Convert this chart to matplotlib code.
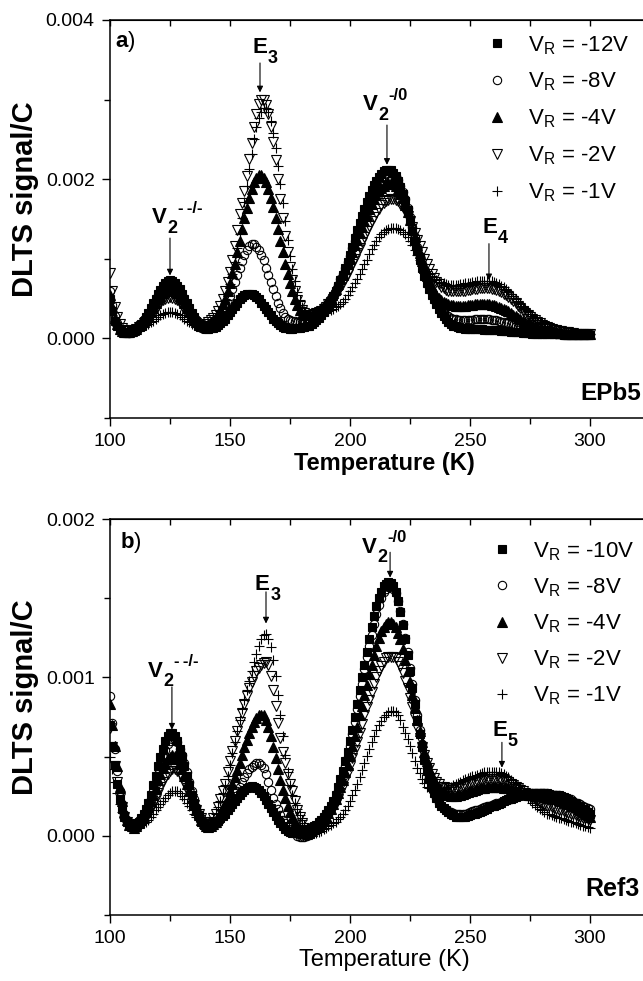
import numpy as np
import matplotlib
matplotlib.use('Agg')
import matplotlib.pyplot as plt
from matplotlib.ticker import MultipleLocator, FixedLocator, FormatStrFormatter

plt.rcParams['font.family'] = ['Liberation Sans', 'DejaVu Sans']
plt.rcParams['mathtext.fontset'] = 'custom'
plt.rcParams['mathtext.rm'] = 'Liberation Sans'
plt.rcParams['mathtext.it'] = 'Liberation Sans:italic'
plt.rcParams['mathtext.bf'] = 'Liberation Sans:bold'
plt.rcParams['mathtext.default'] = 'regular'

# temperature scan (K), one reading per kelvin from 100 to 300
temp = np.arange(100, 301, 1)

# DLTS signal/C, in units of 1e-4 (rows of 10 K)
# a) sample EPb5
epb5_12v = [5.0, 3.4, 2.2, 1.5, 1.0, 0.8, 0.7, 0.7, 0.7, 0.8,
            1.0, 1.2, 1.5, 1.8, 2.2, 2.7, 3.2, 3.8, 4.4, 5.0,
            5.6, 6.1, 6.6, 7.0, 7.2, 7.3, 7.2, 7.0, 6.6, 6.2,
            5.6, 5.0, 4.4, 3.8, 3.2, 2.7, 2.2, 1.8, 1.5, 1.3,
            1.2, 1.2, 1.25, 1.3, 1.45, 1.65, 1.9, 2.2, 2.5, 2.9,
            3.3, 3.7, 4.1, 4.5, 4.9, 5.2, 5.4, 5.55, 5.6, 5.55,
            5.4, 5.2, 4.9, 4.5, 4.1, 3.7, 3.3, 2.9, 2.5, 2.2,
            1.9, 1.65, 1.45, 1.35, 1.25, 1.2, 1.2, 1.25, 1.3, 1.35,
            1.4, 1.45, 1.5, 1.6, 1.8, 2.0, 2.3, 2.6, 2.9, 3.3,
            3.7, 4.2, 4.7, 5.3, 5.9, 6.6, 7.3, 8.0, 8.8, 9.6,
            10.5, 11.5, 12.6, 13.6, 14.5, 15.4, 16.2, 17.1, 17.9, 18.6,
            19.3, 19.8, 20.3, 20.7, 21.0, 21.1, 21.2, 21.1, 20.8, 20.4,
            19.8, 19.0, 18.1, 17.2, 16.1, 14.8, 13.5, 12.2, 11.0, 9.9,
            8.9, 7.9, 7.0, 6.2, 5.5, 4.9, 4.3, 3.7, 3.2, 2.8,
            2.4, 2.1, 1.8, 1.6, 1.5, 1.4, 1.3, 1.25, 1.2, 1.2,
            1.2, 1.2, 1.2, 1.2, 1.2, 1.2, 1.1, 1.1, 1.1, 1.1,
            1.0, 1.0, 1.0, 0.95, 0.9, 0.9, 0.9, 0.85, 0.8, 0.8,
            0.8, 0.75, 0.7, 0.7, 0.7, 0.65, 0.6, 0.6, 0.6, 0.6,
            0.6, 0.55, 0.5, 0.5, 0.5, 0.5, 0.5, 0.5, 0.5, 0.45,
            0.4, 0.4, 0.4, 0.4, 0.4, 0.4, 0.4, 0.4, 0.4, 0.4,
            0.4]
epb5_8v = [6.0, 4.2, 2.8, 1.9, 1.2, 0.95, 0.8, 0.75, 0.7, 0.8,
           0.9, 1.2, 1.5, 1.8, 2.1, 2.5, 3.0, 3.6, 4.2, 4.8,
           5.4, 5.9, 6.4, 6.7, 6.9, 7.0, 6.9, 6.7, 6.4, 5.9,
           5.4, 4.8, 4.2, 3.6, 3.0, 2.5, 2.1, 1.8, 1.5, 1.4,
           1.3, 1.4, 1.5, 1.7, 1.9, 2.3, 2.7, 3.2, 3.8, 4.5,
           5.3, 6.2, 7.1, 8.0, 8.9, 9.7, 10.5, 11.1, 11.6, 11.8,
           11.8, 11.5, 11.1, 10.5, 9.8, 8.9, 8.0, 7.1, 6.2, 5.3,
           4.5, 3.8, 3.2, 2.7, 2.4, 2.3, 2.2, 2.15, 2.1, 2.1,
           2.1, 2.15, 2.2, 2.35, 2.5, 2.7, 2.9, 3.15, 3.4, 3.7,
           4.1, 4.5, 5.0, 5.5, 6.1, 6.7, 7.4, 8.1, 8.8, 9.6,
           10.4, 11.3, 12.2, 13.1, 14.0, 14.9, 15.7, 16.5, 17.3, 18.0,
           18.7, 19.2, 19.7, 20.1, 20.4, 20.6, 20.8, 20.8, 20.7, 20.4,
           19.9, 19.2, 18.4, 17.5, 16.4, 15.2, 14.0, 12.7, 11.5, 10.4,
           9.3, 8.3, 7.3, 6.5, 5.7, 5.1, 4.5, 4.0, 3.6, 3.3,
           3.0, 2.8, 2.6, 2.5, 2.4, 2.35, 2.3, 2.3, 2.3, 2.3,
           2.3, 2.35, 2.4, 2.4, 2.4, 2.4, 2.4, 2.4, 2.4, 2.35,
           2.3, 2.25, 2.2, 2.1, 2.0, 1.95, 1.9, 1.8, 1.7, 1.6,
           1.5, 1.4, 1.3, 1.2, 1.1, 1.05, 1.0, 0.95, 0.9, 0.85,
           0.8, 0.75, 0.7, 0.7, 0.7, 0.65, 0.6, 0.6, 0.6, 0.55,
           0.5, 0.5, 0.5, 0.5, 0.5, 0.5, 0.5, 0.5, 0.5, 0.5,
           0.5]
epb5_4v = [5.5, 3.9, 2.6, 1.8, 1.2, 0.95, 0.8, 0.8, 0.8, 0.9,
           1.0, 1.2, 1.5, 1.7, 2.0, 2.4, 2.8, 3.3, 3.8, 4.4,
           4.9, 5.3, 5.7, 6.0, 6.2, 6.3, 6.2, 6.0, 5.7, 5.3,
           4.9, 4.4, 3.8, 3.3, 2.8, 2.4, 2.0, 1.7, 1.5, 1.5,
           1.6, 1.8, 2.0, 2.3, 2.6, 3.1, 3.6, 4.3, 5.0, 5.9,
           7.0, 8.2, 9.4, 10.8, 12.2, 13.7, 15.1, 16.4, 17.7, 18.8,
           19.6, 20.2, 20.5, 20.5, 20.2, 19.6, 18.8, 17.7, 16.5, 15.1,
           13.7, 12.2, 10.8, 9.4, 8.1, 7.0, 5.9, 5.0, 4.2, 3.6,
           3.1, 3.0, 2.9, 2.95, 3.0, 3.1, 3.3, 3.5, 3.8, 4.1,
           4.4, 4.8, 5.2, 5.7, 6.2, 6.8, 7.4, 8.0, 8.7, 9.4,
           10.1, 10.9, 11.7, 12.4, 13.2, 14.0, 14.8, 15.5, 16.2, 16.9,
           17.5, 18.0, 18.5, 18.9, 19.2, 19.4, 19.5, 19.5, 19.4, 19.2,
           18.8, 18.3, 17.6, 16.8, 15.9, 14.9, 13.9, 12.8, 11.7, 10.7,
           9.7, 8.8, 7.9, 7.2, 6.5, 6.0, 5.5, 5.1, 4.8, 4.6,
           4.4, 4.3, 4.2, 4.15, 4.1, 4.1, 4.1, 4.1, 4.1, 4.15,
           4.2, 4.25, 4.3, 4.3, 4.3, 4.3, 4.3, 4.3, 4.3, 4.25,
           4.2, 4.1, 4.0, 3.85, 3.7, 3.55, 3.4, 3.2, 3.0, 2.8,
           2.6, 2.4, 2.2, 2.05, 1.9, 1.75, 1.6, 1.45, 1.3, 1.2,
           1.1, 1.05, 1.0, 0.95, 0.9, 0.85, 0.8, 0.75, 0.7, 0.65,
           0.6, 0.6, 0.6, 0.55, 0.5, 0.5, 0.5, 0.5, 0.5, 0.5,
           0.5]
epb5_2v = [8.2, 5.9, 4.0, 2.7, 1.8, 1.3, 1.0, 0.95, 0.9, 0.95,
           1.0, 1.2, 1.4, 1.6, 1.9, 2.2, 2.5, 2.9, 3.3, 3.7,
           4.1, 4.5, 4.8, 5.0, 5.1, 5.15, 5.1, 5.0, 4.8, 4.5,
           4.1, 3.7, 3.3, 2.9, 2.5, 2.2, 1.9, 1.7, 1.5, 1.6,
           1.8, 2.0, 2.3, 2.6, 3.0, 3.5, 4.1, 4.9, 5.9, 7.1,
           8.4, 9.9, 11.6, 13.6, 15.6, 17.0, 18.5, 20.4, 22.5, 24.5,
           26.5, 28.2, 29.5, 29.9, 29.9, 29.3, 28.2, 26.6, 24.7, 22.4,
           20.0, 17.5, 15.1, 12.9, 10.8, 9.0, 7.3, 6.0, 4.8, 4.1,
           3.6, 3.2, 2.9, 2.95, 3.0, 3.1, 3.2, 3.35, 3.5, 3.75,
           4.0, 4.3, 4.6, 5.0, 5.4, 5.9, 6.4, 6.9, 7.5, 8.1,
           8.7, 9.3, 10.0, 10.7, 11.4, 12.1, 12.8, 13.5, 14.1, 14.7,
           15.3, 15.8, 16.3, 16.7, 17.0, 17.2, 17.4, 17.5, 17.5, 17.4,
           17.2, 16.9, 16.5, 16.0, 15.4, 14.7, 14.0, 13.2, 12.4, 11.6,
           10.8, 10.0, 9.3, 8.7, 8.1, 7.6, 7.1, 6.8, 6.5, 6.3,
           6.1, 6.0, 5.9, 5.9, 5.9, 5.9, 5.9, 5.95, 6.0, 6.05,
           6.1, 6.15, 6.2, 6.25, 6.3, 6.3, 6.3, 6.3, 6.3, 6.25,
           6.2, 6.1, 6.0, 5.8, 5.6, 5.4, 5.2, 4.95, 4.7, 4.4,
           4.1, 3.8, 3.5, 3.25, 3.0, 2.75, 2.5, 2.3, 2.1, 1.9,
           1.7, 1.55, 1.4, 1.3, 1.2, 1.1, 1.0, 0.95, 0.9, 0.85,
           0.8, 0.75, 0.7, 0.65, 0.6, 0.6, 0.6, 0.55, 0.5, 0.5,
           0.5]
epb5_1v = [4.0, 3.0, 2.2, 1.6, 1.2, 1.0, 0.9, 0.9, 0.9, 0.95,
           1.0, 1.1, 1.2, 1.35, 1.5, 1.65, 1.8, 2.0, 2.2, 2.45,
           2.7, 2.9, 3.1, 3.2, 3.3, 3.35, 3.3, 3.2, 3.1, 2.9,
           2.7, 2.45, 2.2, 2.0, 1.8, 1.65, 1.5, 1.4, 1.3, 1.4,
           1.5, 1.75, 2.0, 2.2, 2.5, 2.9, 3.4, 4.0, 4.8, 5.7,
           6.8, 8.1, 9.6, 11.3, 13.1, 15.1, 17.1, 19.2, 21.3, 23.2,
           25.0, 26.5, 27.7, 28.4, 28.9, 28.9, 28.4, 27.3, 25.8, 23.9,
           21.7, 19.4, 17.0, 14.7, 12.4, 10.4, 8.7, 7.2, 5.8, 4.8,
           3.9, 3.4, 3.0, 3.0, 3.0, 3.05, 3.1, 3.15, 3.2, 3.3,
           3.4, 3.5, 3.6, 3.75, 3.9, 4.1, 4.3, 4.6, 5.0, 5.4,
           5.9, 6.4, 7.0, 7.5, 8.1, 8.7, 9.3, 9.9, 10.6, 11.2,
           11.7, 12.2, 12.7, 13.1, 13.4, 13.6, 13.8, 13.9, 13.9, 13.9,
           13.8, 13.6, 13.4, 13.1, 12.7, 12.2, 11.7, 11.1, 10.5, 9.9,
           9.4, 8.9, 8.5, 8.1, 7.8, 7.5, 7.3, 7.1, 7.0, 6.9,
           6.8, 6.75, 6.7, 6.7, 6.7, 6.75, 6.8, 6.85, 6.9, 6.95,
           7.0, 7.05, 7.1, 7.15, 7.2, 7.2, 7.2, 7.2, 7.2, 7.15,
           7.1, 7.0, 6.8, 6.6, 6.4, 6.15, 5.9, 5.6, 5.3, 4.95,
           4.6, 4.3, 4.0, 3.7, 3.4, 3.1, 2.8, 2.55, 2.3, 2.1,
           1.9, 1.75, 1.6, 1.45, 1.3, 1.2, 1.1, 1.05, 1.0, 0.9,
           0.8, 0.75, 0.7, 0.65, 0.6, 0.6, 0.6, 0.55, 0.5, 0.5,
           0.5]

# b) sample Ref3
ref3_10v = [7.0, 5.7, 4.5, 3.3, 2.3, 1.7, 1.2, 0.9, 0.7, 0.7,
            0.7, 0.8, 0.9, 1.1, 1.4, 1.7, 2.1, 2.6, 3.2, 3.8,
            4.4, 5.0, 5.5, 6.0, 6.3, 6.5, 6.5, 6.3, 6.0, 5.5,
            5.0, 4.4, 3.8, 3.2, 2.6, 2.1, 1.7, 1.3, 0.9, 0.7,
            0.6, 0.6, 0.6, 0.7, 0.8, 0.95, 1.1, 1.25, 1.4, 1.6,
            1.8, 2.0, 2.2, 2.4, 2.6, 2.75, 2.9, 3.0, 3.1, 3.15,
            3.1, 3.0, 2.9, 2.7, 2.5, 2.25, 2.0, 1.75, 1.5, 1.25,
            1.0, 0.8, 0.6, 0.45, 0.3, 0.25, 0.2, 0.2, 0.2, 0.25,
            0.3, 0.35, 0.4, 0.45, 0.5, 0.6, 0.7, 0.85, 1.0, 1.2,
            1.4, 1.65, 1.9, 2.2, 2.6, 3.1, 3.6, 4.1, 4.7, 5.3,
            6.0, 6.7, 7.5, 8.3, 9.2, 10.0, 10.8, 11.6, 12.4, 13.2,
            13.9, 14.5, 15.0, 15.4, 15.8, 15.9, 16.0, 15.95, 15.8, 15.4,
            14.8, 14.1, 13.3, 12.4, 11.4, 10.4, 9.3, 8.3, 7.3, 6.4,
            5.6, 4.8, 4.1, 3.6, 3.1, 2.7, 2.4, 2.1, 1.9, 1.75,
            1.6, 1.5, 1.4, 1.3, 1.2, 1.2, 1.2, 1.2, 1.2, 1.25,
            1.3, 1.35, 1.4, 1.45, 1.5, 1.55, 1.6, 1.7, 1.8, 1.85,
            1.9, 1.95, 2.0, 2.1, 2.2, 2.25, 2.3, 2.35, 2.4, 2.45,
            2.5, 2.55, 2.6, 2.65, 2.7, 2.7, 2.7, 2.7, 2.7, 2.7,
            2.7, 2.7, 2.7, 2.65, 2.6, 2.6, 2.6, 2.55, 2.5, 2.45,
            2.4, 2.3, 2.2, 2.1, 2.0, 1.9, 1.8, 1.7, 1.6, 1.5,
            1.4]
ref3_8v = [8.8, 7.1, 5.5, 4.1, 2.8, 2.0, 1.4, 1.0, 0.8, 0.7,
           0.6, 0.7, 0.8, 1.0, 1.2, 1.5, 1.8, 2.3, 2.8, 3.3,
           3.9, 4.5, 5.0, 5.4, 5.8, 6.0, 6.1, 6.1, 5.9, 5.5,
           5.1, 4.6, 4.0, 3.4, 2.8, 2.3, 1.8, 1.4, 1.1, 0.9,
           0.7, 0.65, 0.6, 0.7, 0.8, 0.95, 1.1, 1.3, 1.5, 1.75,
           2.0, 2.25, 2.5, 2.8, 3.1, 3.4, 3.7, 3.95, 4.2, 4.35,
           4.5, 4.6, 4.6, 4.5, 4.3, 3.9, 3.4, 2.9, 2.4, 2.0,
           1.7, 1.3, 1.0, 0.8, 0.6, 0.45, 0.3, 0.15, 0.0, -0.05,
           -0.1, -0.05, 0.0, 0.15, 0.3, 0.4, 0.5, 0.65, 0.8, 1.0,
           1.2, 1.45, 1.7, 2.0, 2.4, 2.8, 3.3, 3.8, 4.4, 5.0,
           5.7, 6.4, 7.2, 8.0, 8.8, 9.6, 10.5, 11.3, 12.0, 12.7,
           13.4, 14.0, 14.6, 15.0, 15.4, 15.6, 15.7, 15.7, 15.6, 15.3,
           14.8, 14.2, 13.4, 12.5, 11.6, 10.6, 9.6, 8.6, 7.6, 6.7,
           5.8, 5.0, 4.3, 3.7, 3.2, 2.8, 2.4, 2.1, 1.9, 1.75,
           1.6, 1.55, 1.5, 1.45, 1.4, 1.4, 1.4, 1.4, 1.4, 1.45,
           1.5, 1.55, 1.6, 1.65, 1.7, 1.75, 1.8, 1.85, 1.9, 1.95,
           2.0, 2.05, 2.1, 2.15, 2.2, 2.25, 2.3, 2.35, 2.4, 2.45,
           2.5, 2.55, 2.6, 2.6, 2.6, 2.65, 2.7, 2.7, 2.7, 2.7,
           2.7, 2.7, 2.7, 2.65, 2.6, 2.6, 2.6, 2.55, 2.5, 2.45,
           2.4, 2.35, 2.3, 2.2, 2.1, 2.05, 2.0, 1.9, 1.8, 1.75,
           1.7]
ref3_4v = [8.3, 7.0, 5.7, 4.4, 3.1, 2.2, 1.5, 1.0, 0.7, 0.6,
           0.5, 0.6, 0.8, 1.0, 1.2, 1.5, 1.8, 2.2, 2.6, 3.0,
           3.5, 3.9, 4.3, 4.6, 4.9, 5.0, 5.1, 5.05, 4.9, 4.6,
           4.2, 3.8, 3.3, 2.85, 2.4, 2.0, 1.6, 1.3, 1.0, 0.8,
           0.6, 0.55, 0.6, 0.75, 0.9, 1.15, 1.4, 1.7, 2.0, 2.4,
           2.8, 3.25, 3.7, 4.15, 4.6, 5.1, 5.6, 6.05, 6.5, 6.9,
           7.2, 7.45, 7.6, 7.65, 7.6, 7.3, 6.9, 6.3, 5.6, 4.9,
           4.2, 3.5, 2.9, 2.4, 1.9, 1.5, 1.1, 0.85, 0.6, 0.4,
           0.2, 0.15, 0.1, 0.2, 0.3, 0.4, 0.5, 0.65, 0.8, 1.0,
           1.2, 1.45, 1.7, 2.0, 2.3, 2.7, 3.1, 3.55, 4.0, 4.5,
           5.1, 5.7, 6.3, 6.9, 7.6, 8.2, 8.9, 9.5, 10.2, 10.8,
           11.4, 12.0, 12.5, 12.9, 13.2, 13.4, 13.5, 13.5, 13.4, 13.2,
           12.8, 12.4, 11.8, 11.1, 10.4, 9.7, 8.9, 8.1, 7.3, 6.6,
           5.9, 5.3, 4.7, 4.2, 3.8, 3.5, 3.2, 3.0, 2.8, 2.7,
           2.6, 2.55, 2.5, 2.5, 2.5, 2.55, 2.6, 2.65, 2.7, 2.75,
           2.8, 2.85, 2.9, 2.95, 3.0, 3.0, 3.0, 3.05, 3.1, 3.1,
           3.1, 3.1, 3.1, 3.05, 3.0, 3.0, 3.0, 2.95, 2.9, 2.85,
           2.8, 2.75, 2.7, 2.65, 2.6, 2.6, 2.6, 2.55, 2.5, 2.5,
           2.5, 2.45, 2.4, 2.4, 2.4, 2.35, 2.3, 2.25, 2.2, 2.15,
           2.1, 2.0, 1.9, 1.85, 1.8, 1.7, 1.6, 1.5, 1.4, 1.3,
           1.2]
ref3_2v = [6.8, 5.6, 4.4, 3.4, 2.4, 1.8, 1.2, 0.9, 0.7, 0.6,
           0.5, 0.6, 0.7, 0.85, 1.0, 1.2, 1.4, 1.7, 2.0, 2.35,
           2.7, 3.05, 3.4, 3.7, 3.9, 4.1, 4.2, 4.2, 4.1, 3.9,
           3.7, 3.35, 3.0, 2.65, 2.3, 1.95, 1.6, 1.35, 1.1, 0.9,
           0.7, 0.75, 0.9, 1.1, 1.4, 1.8, 2.3, 2.8, 3.3, 4.0,
           4.7, 5.35, 6.0, 6.6, 7.2, 7.75, 8.3, 8.8, 9.3, 9.7,
           10.1, 10.4, 10.6, 10.8, 10.9, 10.95, 10.8, 10.1, 9.2, 8.2,
           7.1, 6.2, 5.3, 4.6, 3.9, 3.3, 2.8, 2.2, 1.6, 1.2,
           0.8, 0.5, 0.3, 0.3, 0.3, 0.4, 0.5, 0.65, 0.8, 0.95,
           1.1, 1.3, 1.5, 1.75, 2.0, 2.35, 2.7, 3.1, 3.5, 3.95,
           4.4, 4.9, 5.4, 5.95, 6.5, 7.05, 7.6, 8.1, 8.6, 9.1,
           9.6, 10.0, 10.4, 10.7, 11.0, 11.2, 11.3, 11.3, 11.3, 11.2,
           11.0, 10.7, 10.3, 9.8, 9.3, 8.7, 8.1, 7.45, 6.8, 6.2,
           5.6, 5.1, 4.6, 4.25, 3.9, 3.65, 3.4, 3.25, 3.1, 3.05,
           3.0, 3.0, 3.0, 3.0, 3.0, 3.05, 3.1, 3.15, 3.2, 3.25,
           3.3, 3.35, 3.4, 3.45, 3.5, 3.55, 3.6, 3.6, 3.6, 3.6,
           3.6, 3.6, 3.6, 3.55, 3.5, 3.45, 3.4, 3.3, 3.2, 3.1,
           3.0, 2.9, 2.8, 2.7, 2.6, 2.5, 2.4, 2.3, 2.2, 2.1,
           2.0, 1.95, 1.9, 1.85, 1.8, 1.75, 1.7, 1.65, 1.6, 1.55,
           1.5, 1.45, 1.4, 1.35, 1.3, 1.25, 1.2, 1.15, 1.1, 1.05,
           1.0]
ref3_1v = [5.0, 4.2, 3.4, 2.7, 2.0, 1.5, 1.1, 0.9, 0.7, 0.6,
           0.5, 0.55, 0.6, 0.7, 0.8, 0.9, 1.0, 1.2, 1.4, 1.6,
           1.8, 2.0, 2.2, 2.4, 2.6, 2.7, 2.8, 2.85, 2.8, 2.7,
           2.5, 2.3, 2.1, 1.85, 1.6, 1.4, 1.2, 1.05, 0.9, 0.8,
           0.7, 0.75, 0.9, 1.1, 1.4, 1.8, 2.2, 2.7, 3.2, 3.8,
           4.5, 5.2, 5.9, 6.6, 7.3, 8.0, 8.6, 9.2, 9.8, 10.4,
           11.0, 11.5, 12.0, 12.4, 12.7, 12.75, 12.4, 11.9, 11.1, 10.1,
           8.9, 7.6, 6.3, 5.1, 4.0, 3.2, 2.6, 2.1, 1.7, 1.3,
           1.0, 0.7, 0.5, 0.3, 0.2, 0.2, 0.2, 0.25, 0.3, 0.4,
           0.5, 0.6, 0.7, 0.8, 0.9, 1.05, 1.2, 1.4, 1.6, 1.9,
           2.2, 2.55, 2.9, 3.3, 3.7, 4.15, 4.6, 5.05, 5.5, 5.9,
           6.3, 6.65, 7.0, 7.25, 7.5, 7.65, 7.8, 7.85, 7.9, 7.8,
           7.6, 7.3, 6.9, 6.5, 6.1, 5.65, 5.2, 4.75, 4.3, 3.95,
           3.6, 3.35, 3.1, 3.0, 2.9, 2.85, 2.8, 2.85, 2.9, 2.95,
           3.0, 3.05, 3.1, 3.2, 3.3, 3.35, 3.4, 3.5, 3.6, 3.65,
           3.7, 3.75, 3.8, 3.85, 3.9, 3.95, 4.0, 4.0, 4.0, 4.0,
           4.0, 4.0, 4.0, 3.95, 3.9, 3.8, 3.7, 3.55, 3.4, 3.25,
           3.1, 2.9, 2.7, 2.55, 2.4, 2.25, 2.1, 1.95, 1.8, 1.7,
           1.6, 1.5, 1.4, 1.35, 1.3, 1.25, 1.2, 1.15, 1.1, 1.05,
           1.0, 0.95, 0.9, 0.85, 0.8, 0.75, 0.7, 0.65, 0.6, 0.55,
           0.5]

bias_a = ['-12V', '-8V', '-4V', '-2V', '-1V']
bias_b = ['-10V', '-8V', '-4V', '-2V', '-1V']

# marker, face colour, size
styles = [('s', 'k', 5.5), ('o', 'none', 6), ('^', 'k', 6.5), ('v', 'none', 6.5), ('+', 'k', 7)]


def draw_series(ax, series, bias):
    for vals, b, (m, fc, ms) in zip(series, bias, styles):
        ax.plot(temp, np.array(vals) * 1e-4, linestyle='none', marker=m, ms=ms,
                mfc=fc, mec='k', mew=0.8, label='V$_R$ = ' + b)


def peak_label(ax, x, y, base, sub, sup=''):
    # base letter, subscript and superscript placed side by side
    r = fig.canvas.get_renderer()
    t = ax.text(x, y, base, fontsize=16, fontweight='bold', va='baseline')
    w = t.get_window_extent(r).width * 72.0 / fig.dpi
    s = ax.annotate(sub, (x, y), xytext=(w + 0.3, -7), textcoords='offset points',
                    fontsize=13, fontweight='bold', va='baseline')
    if sup:
        w2 = s.get_window_extent(r).width * 72.0 / fig.dpi
        ax.annotate(sup, (x, y), xytext=(w + w2 + 0.6, 7.5), textcoords='offset points',
                    fontsize=12, fontweight='bold', va='baseline')


def arrow(ax, x, y0, y1):
    ax.annotate('', xy=(x, y1), xytext=(x, y0),
                arrowprops=dict(arrowstyle='-|>', color='k', lw=0.8,
                                shrinkA=0, shrinkB=0, mutation_scale=9))


def style_axes(ax, ymin, ymax, ymajor, xbold):
    ax.set_xlim(100, 350)
    ax.set_ylim(ymin, ymax)
    ax.xaxis.set_major_locator(FixedLocator([100, 150, 200, 250, 300]))
    ax.xaxis.set_minor_locator(FixedLocator([125, 175, 225, 275, 325]))
    ax.yaxis.set_major_locator(MultipleLocator(ymajor))
    ax.yaxis.set_minor_locator(MultipleLocator(ymajor / 2))
    ax.yaxis.set_major_formatter(FormatStrFormatter('%.3f'))
    ax.tick_params(which='both', direction='out', labelsize=14, width=1.0)
    ax.tick_params(which='major', length=6, pad=5)
    ax.tick_params(which='minor', length=4)
    for sp in ax.spines.values():
        sp.set_linewidth(1.1)
    top = ax.secondary_xaxis('top')
    top.xaxis.set_major_locator(MultipleLocator(25))
    top.tick_params(direction='in', length=4, width=1.0, labeltop=False)
    ax.set_ylabel('DLTS signal/C', fontsize=21, fontweight='bold')
    ax.yaxis.set_label_coords(-0.118, 0.55)
    ax.set_xlabel('Temperature (K)', fontsize=17,
                  fontweight='bold' if xbold else 'normal')
    ax.xaxis.set_label_coords(0.457, -0.086)


fig = plt.figure(figsize=(6.43, 9.81), dpi=100)
ax1 = fig.add_axes([110 / 643, 1 - 418 / 981, 600 / 643, 398 / 981])
ax2 = fig.add_axes([110 / 643, 1 - 915 / 981, 600 / 643, 396 / 981])

# panel a
draw_series(ax1, [epb5_12v, epb5_8v, epb5_4v, epb5_2v, epb5_1v], bias_a)
style_axes(ax1, -0.001, 0.004, 0.002, True)
ax1.text(102.1, 0.00366, r'$\mathbf{a}$)', fontsize=16)
ax1.text(295.8, -0.00078, 'EPb5', fontsize=17.5, fontweight='bold')
peak_label(ax1, 159.2, 0.003585, 'E', '3')
peak_label(ax1, 117.5, 0.001447, 'V', '2', '-\u2009-/-')
peak_label(ax1, 205.4, 0.002868, 'V', '2', '-/0')
peak_label(ax1, 255.0, 0.001321, 'E', '4')
arrow(ax1, 162.5, 0.00346, 0.00309)
arrow(ax1, 125.0, 0.00126, 0.00079)
arrow(ax1, 215.4, 0.00268, 0.00218)
arrow(ax1, 257.9, 0.00119, 0.00073)
ax1.legend(loc='upper left', bbox_to_anchor=(486 / 643, 1 - 34 / 981),
           bbox_transform=fig.transFigure, frameon=False, fontsize=16,
           handlelength=1.0, handletextpad=0.9, labelspacing=0.64,
           borderpad=0, borderaxespad=0)

# panel b
draw_series(ax2, [ref3_10v, ref3_8v, ref3_4v, ref3_2v, ref3_1v], bias_b)
style_axes(ax2, -0.0005, 0.002, 0.001, False)
ax2.text(104.2, 0.001816, r'$\mathbf{b}$)', fontsize=16)
ax2.text(297.9, -0.000379, 'Ref3', fontsize=18, fontweight='bold')
peak_label(ax2, 160.4, 0.001552, 'E', '3')
peak_label(ax2, 115.8, 0.001004, 'V', '2', '-\u2009-/-')
peak_label(ax2, 205.0, 0.001788, 'V', '2', '-/0')
peak_label(ax2, 259.2, 0.000627, 'E', '5')
arrow(ax2, 165.0, 0.00154, 0.00134)
arrow(ax2, 125.8, 0.00094, 0.00067)
arrow(ax2, 216.7, 0.00179, 0.00163)
arrow(ax2, 263.3, 0.00059, 0.00043)
ax2.legend(loc='upper left', bbox_to_anchor=(491 / 643, 1 - 540 / 981),
           bbox_transform=fig.transFigure, frameon=False, fontsize=16,
           handlelength=1.0, handletextpad=0.9, labelspacing=0.61,
           borderpad=0, borderaxespad=0)

fig.savefig('out.png', dpi=100)
